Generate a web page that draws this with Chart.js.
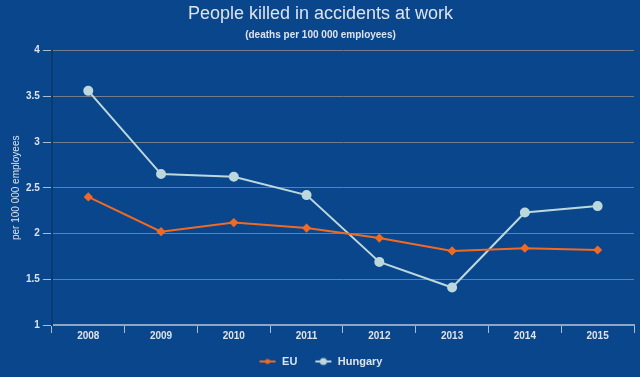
<!DOCTYPE html>
<html>
<head>
<meta charset="utf-8">
<script src="https://cdn.jsdelivr.net/npm/chart.js@4"></script>
<style>
html, body { margin: 0; padding: 0; background: #0a468c; }
#wrap { width: 640px; height: 377px; }
</style>
</head>
<body>
<div id="wrap"><canvas id="AccidentChart"></canvas></div>
<script>
const years = ['2008', '2009', '2010', '2011', '2012', '2013', '2014', '2015'];
const euValues = [2.4, 2.02, 2.12, 2.06, 1.95, 1.81, 1.84, 1.82];
const hungaryValues = [3.56, 2.65, 2.62, 2.42, 1.69, 1.41, 2.23, 2.3];

const orange = '#f26a22';
const pale = '#bcd8dc';
const textColor = '#dde3ea';

function legendIcon(color, r) {
    const c = document.createElement('canvas');
    c.width = 18; c.height = 10;
    const ctx = c.getContext('2d');
    ctx.strokeStyle = color;
    ctx.lineWidth = 2;
    ctx.beginPath();
    ctx.moveTo(1, 5); ctx.lineTo(17, 5);
    ctx.stroke();
    ctx.fillStyle = color;
    ctx.beginPath();
    ctx.arc(9, 5, r, 0, Math.PI * 2);
    ctx.fill();
    return c;
}

const bgPlugin = {
    id: 'bg',
    beforeDraw(chart) {
        const ctx = chart.ctx;
        ctx.save();
        ctx.fillStyle = '#0a468c';
        ctx.fillRect(0, 0, chart.width, chart.height);
        ctx.restore();
    }
};

const config = {
    type: 'line',
    data: {
        labels: years,
        datasets: [{
            label: 'EU',
            data: euValues,
            borderColor: orange,
            backgroundColor: orange,
            borderWidth: 2,
            pointStyle: 'rectRot',
            pointRadius: 3.2,
            pointHoverRadius: 3.2,
            tension: 0
        }, {
            label: 'Hungary',
            data: hungaryValues,
            borderColor: pale,
            backgroundColor: pale,
            borderWidth: 2,
            pointStyle: 'circle',
            pointRadius: 4,
            pointHoverRadius: 4,
            tension: 0
        }]
    },
    options: {
        responsive: true,
        maintainAspectRatio: false,
        animation: false,
        layout: { padding: { left: 4, right: 3, top: 0, bottom: 0 } },
        plugins: {
            title: {
                display: true,
                text: 'People killed in accidents at work',
                color: textColor,
                font: { family: 'Liberation Sans', size: 18, weight: 'normal' },
                padding: { top: 3, bottom: 2 }
            },
            subtitle: {
                display: true,
                text: '(deaths per 100 000 employees)',
                color: textColor,
                font: { family: 'Liberation Sans', size: 10, weight: 'bold' },
                padding: { top: 3, bottom: 9 }
            },
            legend: {
                position: 'bottom',
                labels: {
                    color: textColor,
                    font: { family: 'Liberation Sans', size: 11, weight: 'bold' },
                    usePointStyle: true,
                    pointStyleWidth: 18,
                    padding: 17,
                    generateLabels(chart) {
                        return chart.data.datasets.map((ds, i) => ({
                            text: ds.label,
                            fontColor: textColor,
                            pointStyle: legendIcon(ds.borderColor, i === 0 ? 2.5 : 3.5),
                            lineWidth: 0,
                            strokeStyle: 'transparent',
                            fillStyle: ds.borderColor,
                            hidden: false,
                            datasetIndex: i
                        }));
                    }
                }
            },
            tooltip: { enabled: false }
        },
        scales: {
            x: {
                offset: true,
                grid: {
                    display: true,
                    drawOnChartArea: false,
                    offset: true,
                    tickLength: 8,
                    tickColor: '#a9bcd4'
                },
                border: { color: '#8ea6c4', width: 2 },
                ticks: {
                    color: textColor,
                    font: { family: 'Liberation Sans', size: 10, weight: 'bold' },
                    padding: -3
                }
            },
            y: {
                min: 1,
                max: 4,
                ticks: {
                    stepSize: 0.5,
                    color: textColor,
                    font: { family: 'Liberation Sans', size: 10, weight: 'bold' },
                    padding: 3,
                    callback: (v) => String(v)
                },
                grid: {
                    color: '#737c88',
                    lineWidth: 1,
                    tickLength: 9,
                    tickColor: '#a9bcd4'
                },
                border: { color: '#083a74', width: 2 },
                title: {
                    display: true,
                    text: 'per 100 000 employees',
                    color: textColor,
                    font: { family: 'Liberation Sans', size: 10 },
                    padding: { top: 6, bottom: 1 }
                }
            }
        }
    },
    plugins: [bgPlugin]
};

const chart1 = new Chart(
    document.getElementById('AccidentChart'),
    config
);
</script>
</body>
</html>
